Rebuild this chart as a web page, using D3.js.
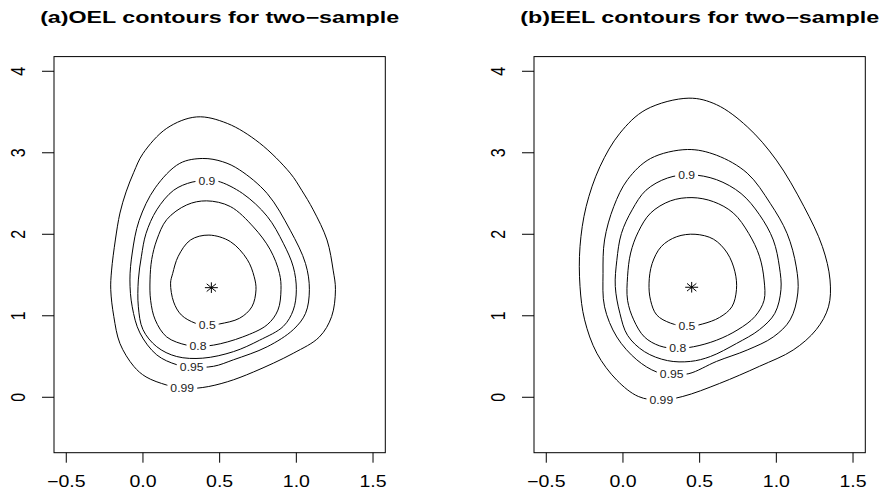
<!DOCTYPE html>
<html>
<head>
<meta charset="utf-8">
<script src="https://cdn.jsdelivr.net/npm/d3@7"></script>
<style>
  body { margin: 0; background: #fff; }
  svg text { font-family: "Liberation Sans", Arial, Helvetica, sans-serif; }
</style>
</head>
<body>
<svg id="chart" width="879" height="490"></svg>
<script>
const xTicks = [-0.5, 0, 0.5, 1, 1.5];
const yTicks = [0, 1, 2, 3, 4];
const xLim = [-0.5, 1.5];
const yLim = [-0.5, 4];
const titles = ["(a)OEL contours for two\u2212sample", "(b)EEL contours for two\u2212sample"];
const levels = ["0.5", "0.8", "0.9", "0.95", "0.99"];

// panel (a) OEL contour lines
const oel_050 = [[0.43,1.99],[0.57,1.91],[0.68,1.69],[0.725,1.48],[0.737,1.32],[0.71,1.11],[0.63,0.97],[0.50,0.90],[0.42,0.88],[0.34,0.91],[0.25,1.01],[0.20,1.17],[0.18,1.40],[0.194,1.52],[0.23,1.73],[0.31,1.93]];
const oel_080 = [[0.415,2.41],[0.57,2.34],[0.72,2.09],[0.83,1.81],[0.89,1.52],[0.90,1.32],[0.88,1.07],[0.81,0.89],[0.65,0.74],[0.46,0.64],[0.36,0.63],[0.285,0.64],[0.155,0.74],[0.08,0.95],[0.05,1.19],[0.046,1.44],[0.057,1.69],[0.09,1.93],[0.155,2.18],[0.285,2.36]];
const oel_090 = [[0.42,2.655],[0.49,2.65],[0.65,2.50],[0.81,2.22],[0.915,1.89],[0.98,1.60],[1.00,1.32],[0.98,1.07],[0.915,0.87],[0.76,0.70],[0.59,0.56],[0.39,0.48],[0.22,0.50],[0.09,0.62],[0.00,0.83],[-0.03,1.11],[-0.03,1.44],[-0.01,1.73],[0.02,2.01],[0.09,2.30],[0.20,2.54],[0.32,2.64]];
const oel_095 = [[0.39,2.93],[0.52,2.89],[0.63,2.79],[0.81,2.50],[0.96,2.05],[1.06,1.64],[1.085,1.32],[1.06,1.03],[0.98,0.83],[0.81,0.62],[0.59,0.46],[0.46,0.38],[0.32,0.37],[0.22,0.40],[0.09,0.52],[-0.02,0.79],[-0.07,1.11],[-0.085,1.44],[-0.07,1.77],[-0.025,2.17],[0.08,2.57],[0.24,2.87]];
const oel_099 = [[0.35,3.44],[0.55,3.36],[0.76,3.12],[0.96,2.75],[1.035,2.54],[1.11,2.30],[1.20,1.93],[1.24,1.56],[1.255,1.32],[1.23,0.99],[1.15,0.74],[0.98,0.54],[0.72,0.31],[0.55,0.19],[0.39,0.12],[0.26,0.11],[0.155,0.15],[0.02,0.25],[-0.06,0.38],[-0.15,0.66],[-0.19,0.99],[-0.21,1.32],[-0.205,1.55],[-0.18,1.93],[-0.15,2.26],[-0.11,2.52],[-0.06,2.76],[0.00,2.99],[0.155,3.30]];
const oelLabelPos = [[0.419,0.879],[0.359,0.629],[0.417,2.654],[0.318,0.368],[0.256,0.114]];
const oelCenter = [0.446, 1.345];

// panel (b) EEL contour lines
const eel_050 = [[0.47,2.00],[0.59,1.94],[0.68,1.77],[0.73,1.54],[0.74,1.32],[0.71,1.11],[0.63,0.98],[0.52,0.90],[0.42,0.87],[0.31,0.91],[0.22,1.01],[0.18,1.19],[0.17,1.40],[0.19,1.64],[0.25,1.85],[0.35,1.97]];
const eel_080 = [[0.45,2.45],[0.59,2.40],[0.72,2.26],[0.82,2.01],[0.89,1.73],[0.92,1.44],[0.92,1.19],[0.86,0.99],[0.75,0.83],[0.61,0.70],[0.46,0.62],[0.35,0.60],[0.24,0.63],[0.14,0.74],[0.07,0.95],[0.03,1.19],[0.03,1.48],[0.05,1.77],[0.10,2.03],[0.18,2.26],[0.31,2.41]];
const eel_090 = [[0.44,2.73],[0.61,2.67],[0.77,2.50],[0.89,2.24],[0.98,1.93],[1.02,1.60],[1.03,1.32],[0.99,1.03],[0.89,0.83],[0.74,0.66],[0.57,0.50],[0.44,0.44],[0.29,0.45],[0.14,0.56],[0.03,0.76],[-0.02,1.03],[-0.05,1.36],[-0.04,1.68],[-0.01,2.01],[0.06,2.30],[0.15,2.54],[0.29,2.69]];
const eel_095 = [[0.42,3.04],[0.61,2.97],[0.81,2.75],[0.96,2.38],[1.07,2.01],[1.13,1.60],[1.14,1.28],[1.09,0.95],[0.98,0.74],[0.81,0.58],[0.61,0.44],[0.43,0.29],[0.32,0.28],[0.22,0.31],[0.09,0.46],[-0.04,0.74],[-0.12,1.11],[-0.13,1.52],[-0.12,1.93],[-0.06,2.34],[0.03,2.67],[0.18,2.93]];
const eel_099 = [[0.43,3.67],[0.61,3.59],[0.81,3.32],[1.00,2.91],[1.18,2.34],[1.30,1.85],[1.35,1.44],[1.34,1.11],[1.26,0.83],[1.11,0.58],[0.89,0.38],[0.63,0.17],[0.39,0.01],[0.24,-0.035],[0.10,0.01],[-0.04,0.21],[-0.17,0.54],[-0.25,0.95],[-0.28,1.36],[-0.28,1.85],[-0.24,2.34],[-0.15,2.83],[-0.02,3.24],[0.15,3.53]];
const eelLabelPos = [[0.417,0.875],[0.357,0.601],[0.415,2.728],[0.318,0.286],[0.25,-0.033]];
const eelCenter = [0.448, 1.35];

const SX = 1.22;   // the picture is stretched sideways

class ContourPanel{
    constructor({svg,left,top,width,height,title,contours,labelPos,center}){
        const padX = (xLim[1]-xLim[0])*0.04;
        const padY = (yLim[1]-yLim[0])*0.04;
        this.x = d3.scaleLinear().domain([xLim[0]-padX, xLim[1]+padX]).range([left, left+width]);
        this.y = d3.scaleLinear().domain([yLim[0]-padY, yLim[1]+padY]).range([top+height, top]);
        const x = this.x, y = this.y;

        const g = svg.append("g").attr("class", "panel");

        g.append("text")
            .attr("x", left + width/2)
            .attr("y", 23)
            .attr("text-anchor", "middle")
            .attr("textLength", 359)
            .attr("lengthAdjust", "spacingAndGlyphs")
            .style("font-size", "16px")
            .style("font-weight", "bold")
            .text(title);

        const line = d3.line()
            .x(d=>{return x(d[0]);})
            .y(d=>{return y(d[1]);})
            .curve(d3.curveCatmullRomClosed.alpha(0.5));

        g.append("g").selectAll("path")
            .data(contours)
            .enter().append("path")
            .attr("d", d=>{return line(d);})
            .attr("fill", "none")
            .attr("stroke", "#000")
            .attr("stroke-width", 1);

        // labels sit in a gap of the line
        const lab = g.append("g").selectAll("g")
            .data(labelPos)
            .enter().append("g")
            .attr("transform", d=>{return `translate(${x(d[0])},${y(d[1])})`;});
        lab.append("rect").attr("fill", "#fff");
        lab.append("text")
            .attr("text-anchor", "middle")
            .attr("dy", "0.36em")
            .attr("transform", `scale(${SX},1)`)
            .style("font-size", "10px")
            .style("fill", "#222")
            .text((d,i)=>{return levels[i];});
        lab.each(function(){
            const t = d3.select(this).select("text").node();
            const w = t.getComputedTextLength()*SX + 6;
            d3.select(this).select("rect")
                .attr("x", -w/2).attr("y", -4.5)
                .attr("width", w).attr("height", 9);
        });

        // asterisk at the estimate
        const cx = x(center[0]), cy = y(center[1]), r = 5.3;
        const star = [[0,-r,0,r],[-r,0,r,0],[-r*0.72,-r*0.72,r*0.72,r*0.72],[-r*0.72,r*0.72,r*0.72,-r*0.72]];
        g.append("g").selectAll("line")
            .data(star)
            .enter().append("line")
            .attr("x1", d=>{return cx + d[0]*SX;})
            .attr("y1", d=>{return cy + d[1];})
            .attr("x2", d=>{return cx + d[2]*SX;})
            .attr("y2", d=>{return cy + d[3];})
            .attr("stroke", "#000")
            .attr("stroke-width", 1);

        g.append("rect")
            .attr("x", left).attr("y", top)
            .attr("width", width).attr("height", height)
            .attr("fill", "none")
            .attr("stroke", "#000")
            .attr("stroke-width", 1);

        const xAxis = g.append("g");
        xAxis.selectAll("line")
            .data(xTicks)
            .enter().append("line")
            .attr("x1", d=>{return x(d);}).attr("x2", d=>{return x(d);})
            .attr("y1", top+height).attr("y2", top+height+10)
            .attr("stroke", "#000");
        xAxis.selectAll("text")
            .data(xTicks)
            .enter().append("text")
            .attr("transform", d=>{return `translate(${x(d)},${top+height+34.6}) scale(${SX},1)`;})
            .attr("text-anchor", "middle")
            .style("font-size", "16px")
            .text(d=>{return d3.format(".1f")(d);});

        const yAxis = g.append("g");
        yAxis.selectAll("line")
            .data(yTicks)
            .enter().append("line")
            .attr("x1", left).attr("x2", left-12)
            .attr("y1", d=>{return y(d);}).attr("y2", d=>{return y(d);})
            .attr("stroke", "#000");
        yAxis.selectAll("text")
            .data(yTicks)
            .enter().append("text")
            .attr("transform", d=>{return `translate(${left-29},${y(d)}) scale(${SX},1) rotate(-90)`;})
            .attr("text-anchor", "middle")
            .style("font-size", "16px")
            .text(d=>{return d;});
    }
}

const svg = d3.select("#chart");
svg.append("rect").attr("width", 879).attr("height", 490).attr("fill", "#fff");

new ContourPanel({svg, left:54, top:56.6, width:331.3, height:396.1,
    title:titles[0], contours:[oel_050,oel_080,oel_090,oel_095,oel_099],
    labelPos:oelLabelPos, center:oelCenter});
new ContourPanel({svg, left:534, top:56.6, width:331.3, height:396.1,
    title:titles[1], contours:[eel_050,eel_080,eel_090,eel_095,eel_099],
    labelPos:eelLabelPos, center:eelCenter});
</script>
</body>
</html>
